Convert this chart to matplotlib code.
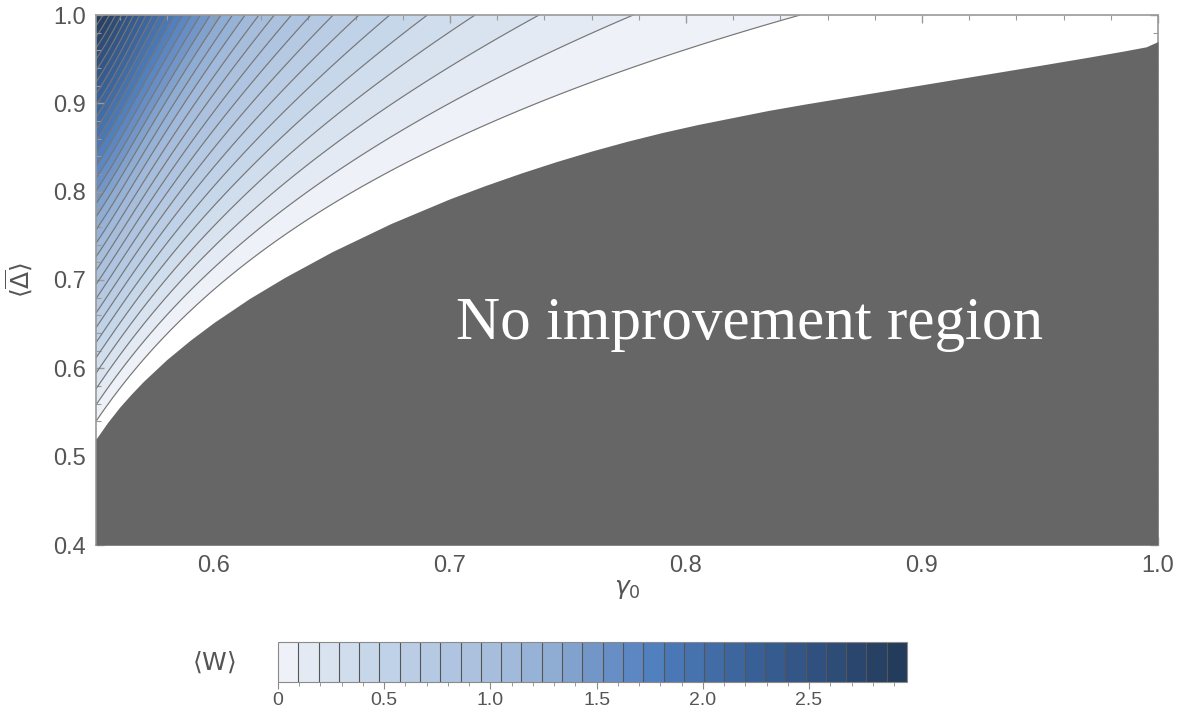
import numpy as np
import matplotlib
matplotlib.use('Agg')
import matplotlib.pyplot as plt
from matplotlib.colors import LinearSegmentedColormap
from matplotlib.ticker import MultipleLocator

plt.rcParams['font.family'] = ['Liberation Sans', 'DejaVu Sans']
plt.rcParams['mathtext.fontset'] = 'dejavusans'

# boundary of the "no improvement" region, (gamma0, <Delta>) pairs
gray_gamma = [0.550, 0.555, 0.560, 0.565, 0.570, 0.580, 0.590, 0.600, 0.615,
              0.630, 0.650, 0.675, 0.700, 0.715, 0.730, 0.745, 0.760, 0.775,
              0.790, 0.805, 0.820, 0.835, 0.850, 0.875, 0.900, 0.925, 0.950,
              0.970, 0.985, 0.995, 1.000]
gray_delta = [0.520, 0.539, 0.556, 0.571, 0.585, 0.610, 0.632, 0.652, 0.679,
              0.703, 0.732, 0.764, 0.792, 0.807, 0.821, 0.834, 0.846, 0.857,
              0.867, 0.876, 0.884, 0.892, 0.899, 0.910, 0.921, 0.932, 0.943,
              0.952, 0.959, 0.964, 0.970]

# parameters of the work surface <W>(gamma0, <Delta>)
G_POLE = 0.48      # gamma0 where the zero line diverges
D_ZERO = 0.54      # <Delta> of the W = 0 line at gamma0 = 0.55
K_ZERO = 0.277     # log slope of the W = 0 line
A_SLOPE = 5.1      # dW/dDelta at the zero line, gamma0 = 0.55
C_DECAY = 8.7      # decay of that slope with gamma0
E_SOFT = 0.015
H_SAT = 2.5
B_CURV = 0.57      # curvature along <Delta>
N_BANDS = 31

cbar_ticks = [0, 0.5, 1.0, 1.5, 2.0, 2.5]
band_colors = ['#ffffff', '#eef2f8', '#e2e9f3', '#d3dfee', '#c3d4e9', '#b3c7e2',
               '#a3bbdb', '#8eabd3', '#6f93c7', '#4f7fbe', '#436ea9', '#365b8f',
               '#2c4a74', '#223958']
band_stops = [0.0, 0.016, 0.05, 0.10, 0.16, 0.25, 0.36, 0.44, 0.51, 0.60, 0.68,
              0.79, 0.90, 1.0]

g = np.linspace(0.55, 1.0, 700)
d = np.linspace(0.4, 1.0, 700)
G, D = np.meshgrid(g, d)
x = G - 0.55
dz = D - (D_ZERO + K_ZERO * np.log((G - G_POLE) / (0.55 - G_POLE)))
decay = C_DECAY * (np.sqrt(x ** 2 + E_SOFT ** 2) - E_SOFT) / (1 + H_SAT * x)
W = A_SLOPE * np.exp(-decay) * dz * (1 + B_CURV * dz)

levels = np.linspace(0, W.max(), N_BANDS + 1)
cmap = LinearSegmentedColormap.from_list('w', list(zip(band_stops, band_colors)))
centers = (levels[:-1] + levels[1:]) / 2 / W.max()
colors = [cmap(c) for c in centers]

fig = plt.figure(figsize=(11.94, 7.22), dpi=100)
ax = fig.add_axes([96 / 1194, 1 - 545 / 722, 1062 / 1194, 530 / 722])

cf = ax.contourf(G, D, W, levels=levels, colors=colors)
ax.contour(G, D, W, levels=levels[:-1], colors='#777777', linewidths=0.85)
ax.fill_between(gray_gamma, 0.4, gray_delta, color='#666666', lw=0, zorder=3)
ax.text(0.827, 0.650, 'No improvement region', color='white', fontsize=44,
        family='Liberation Serif', ha='center', va='center', zorder=4)

ax.set_xlim(0.55, 1.0)
ax.set_ylim(0.4, 1.0)
ax.set_xticks([0.6, 0.7, 0.8, 0.9, 1.0])
ax.set_yticks([0.4, 0.5, 0.6, 0.7, 0.8, 0.9, 1.0])
ax.xaxis.set_minor_locator(MultipleLocator(0.02))
ax.yaxis.set_minor_locator(MultipleLocator(0.02))
ax.tick_params(which='both', direction='in', top=True, right=True,
               color='#9a9a9a', labelcolor='#555555', labelsize=17, pad=7)
ax.tick_params(which='major', length=6, width=1)
ax.tick_params(which='minor', length=3.5, width=0.8)
for sp in ax.spines.values():
    sp.set_color('#9a9a9a')
    sp.set_linewidth(1.2)
ax.set_xlabel(r'$\gamma_0$', fontsize=18, color='#555555', labelpad=0)
ax.set_ylabel(r'$\langle\overline{\mathit{\Delta}}\rangle$', fontsize=18,
              color='#555555', labelpad=14)

cax = fig.add_axes([278 / 1194, 1 - 682 / 722, 629 / 1194, 40 / 722])
cb = fig.colorbar(cf, cax=cax, orientation='horizontal', drawedges=True)
cb.dividers.set_color('#555555')
cb.dividers.set_linewidth(0.8)
cb.outline.set_edgecolor('#8a8a8a')
cb.set_ticks(cbar_ticks)
cb.ax.set_xticklabels(['0', '0.5', '1.0', '1.5', '2.0', '2.5'],
                      family=['Liberation Sans Narrow', 'Liberation Sans'])
cb.ax.xaxis.set_minor_locator(MultipleLocator(0.1))
cb.ax.tick_params(which='both', color='#8a8a8a', labelcolor='#555555',
                  labelsize=14, direction='out', pad=2)
cb.ax.tick_params(which='major', length=5)
cb.ax.tick_params(which='minor', length=3)
fig.text(214 / 1194, 1 - 662 / 722, r'$\langle\mathrm{W}\rangle$', fontsize=18,
         color='#555555', ha='center', va='center')

fig.savefig('out.png', dpi=100)
